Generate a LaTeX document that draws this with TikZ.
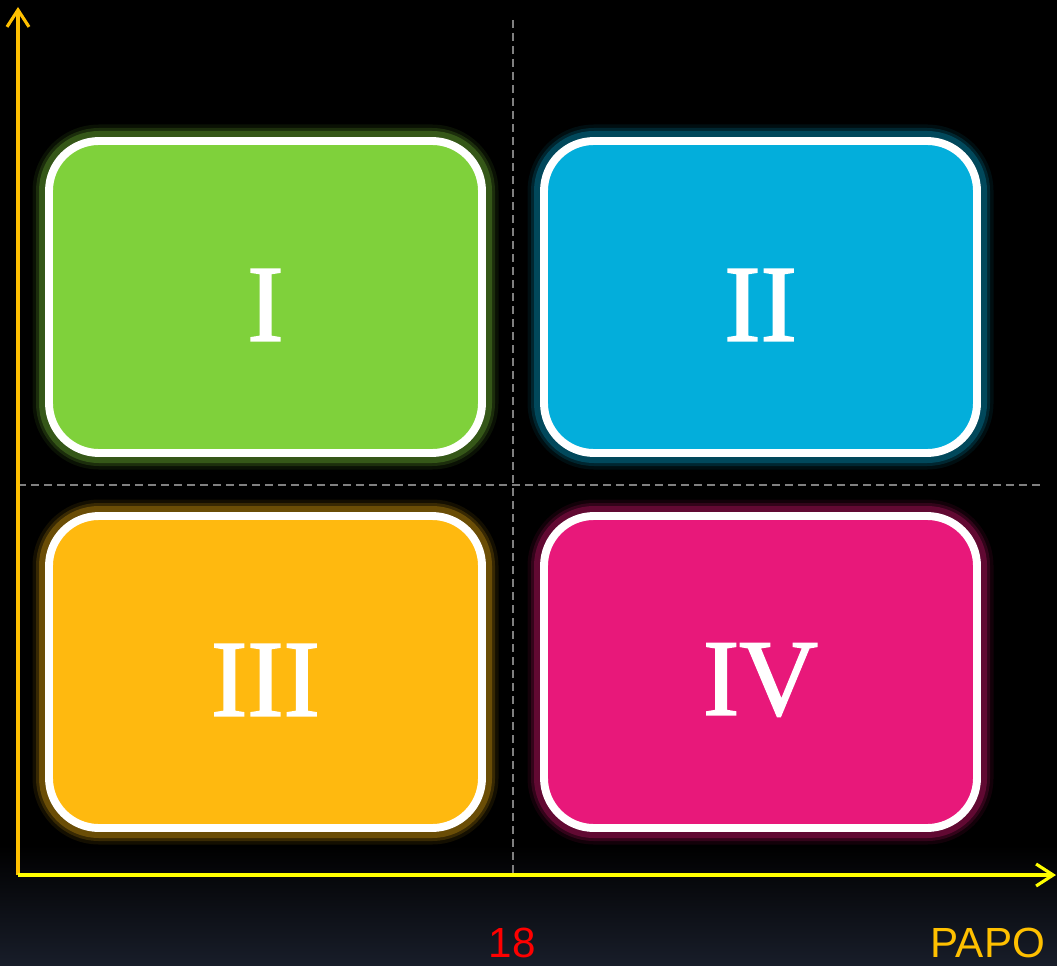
\documentclass[tikz,border=0pt]{standalone}
\usepackage{fontspec}
\setmainfont{Liberation Serif}
\newfontfamily\labelfont{Liberation Sans}
\newfontfamily\numfont[FakeBold=1.6]{Liberation Serif}
\usetikzlibrary{arrows.meta, positioning}
\definecolor{greenbox}{RGB}{127,209,59}
\definecolor{bluebox}{RGB}{3,174,219}
\definecolor{orangebox}{RGB}{255,185,15}
\definecolor{pinkbox}{RGB}{232,24,122}
\definecolor{axisorange}{RGB}{255,192,0}
\definecolor{axisyellow}{RGB}{255,255,0}
\definecolor{bgnavy}{RGB}{24,29,41}
\definecolor{dashgray}{RGB}{128,128,128}

\begin{document}
\begin{tikzpicture}[
    box/.style={draw=white, line width=4.5pt, rounded corners=1cm,
        minimum width=8.66cm, minimum height=6.24cm, inner sep=0pt, fill=#1,
        preaction={draw=#1!55!black, draw opacity=0.15, line width=0.66cm},
        preaction={draw=#1!55!black, draw opacity=0.3, line width=0.52cm},
        preaction={draw=#1!55!black, draw opacity=0.6, line width=0.40cm}},
    numeral/.style={text=white, inner sep=0pt, font=\numfont\fontsize{62}{62}\selectfont},
    axis/.style={line width=1.8pt, -{Straight Barb[length=0.34cm, width=0.44cm]}},
    divider/.style={draw=dashgray, line width=1.5pt, dash pattern=on 0.16cm off 0.1cm},
    ticklabel/.style={font=\labelfont\fontsize{24}{24}\selectfont, anchor=base, inner sep=0pt}
]
    \useasboundingbox (0,0) rectangle (21.14,19.3);

    % Background
    \fill[black] (0,0) rectangle (21.14,19.3);
    \shade[top color=black, bottom color=bgnavy] (0,0) rectangle (21.14,2.4);

    % Dividers
    \coordinate (vtop) at (10.26,18.9);
    \coordinate (vbot) at (10.26,1.8);
    \coordinate (hleft) at (0.36,9.6);
    \coordinate (hright) at (20.8,9.6);
    \draw[divider] (vtop) -- (vbot);
    \draw[divider] (hleft) -- (hright);

    % Quadrant I
    \node[box=greenbox] (boxI) at (5.31,13.36) {};
    \node[numeral] (numI) at (5.31,13.2) {I};

    % Quadrant II
    \node[box=bluebox] (boxII) at (15.21,13.36) {};
    \node[numeral] (numII) at (15.21,13.2) {II};

    % Quadrant III
    \node[box=orangebox] (boxIII) at (5.31,5.86) {};
    \node[numeral] (numIII) at (5.31,5.7) {III};

    % Quadrant IV
    \node[box=pinkbox] (boxIV) at (15.21,5.86) {};
    \node[numeral] (numIV) at (15.21,5.7) {IV};

    % Axes
    \coordinate (origin) at (0.36,1.8);
    \coordinate (ytip) at (0.36,19.16);
    \coordinate (xtip) at (21.12,1.8);
    \draw[axis, axisorange] (origin) -- (ytip);
    \draw[axis, axisyellow] (origin) -- (xtip);

    % Axis labels
    \node[ticklabel, text=red] (cut) at (10.24,0.16) {18};
    \node[ticklabel, text=axisorange] (papo) at (19.76,0.16) {PAPO};

\end{tikzpicture}
\end{document}
